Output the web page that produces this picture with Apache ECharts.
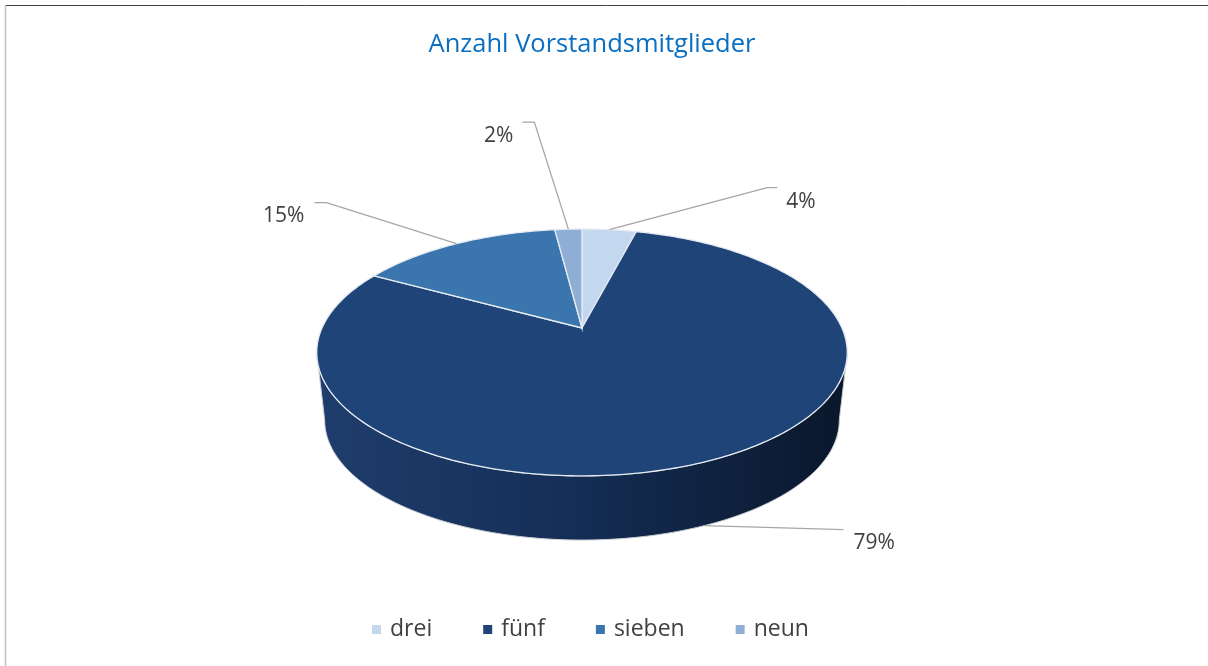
<!DOCTYPE html>
<html>
<head>
<meta charset="utf-8">
<title>Anzahl Vorstandsmitglieder</title>
<script src="https://cdn.jsdelivr.net/npm/echarts@6/dist/echarts.min.js"></script>
<style>
  html, body { margin: 0; padding: 0; background: #fff; }
  #chart { width: 1208px; height: 666px; }
</style>
</head>
<body>
<div id="chart"></div>
<script>
// Daten
const categories = ['drei', 'fünf', 'sieben', 'neun'];
const shares = [4, 79, 15, 2];          // Prozent
const shareLabels = ['4%', '79%', '15%', '2%'];

const topColors = ['#c3d7ee', '#1f4578', '#3a75ad', '#8eaed6'];

// 3D-Torte: Ellipse mit Perspektive (wie Excel)
const PIE = { cx: 582, cy: 328, a: 260, b: 118.6, k: 0.198, depth: 68.6, shrink: 0.97 };

// Führungslinien: Knick relativ zum Ankerpunkt, waagrechtes Stück, Textversatz
const leader = [
  { dx: 158, dy: -42, run: 10, tx: 9, ty: 14, align: 'left' },
  { dx: 139, dy: 4, run: 0, tx: 10, ty: 13, align: 'left' },
  { dx: -130, dy: -41, run: -12, tx: -10, ty: 13, align: 'right' },
  { dx: -34, dy: -107, run: -12, tx: -9, ty: 14, align: 'right' }
];

const total = shares.reduce((s, v) => s + v, 0);

function proj(phi, bottom) {
  const X = Math.sin(phi), T = -Math.cos(phi);
  const s = bottom ? PIE.shrink : 1;
  const d = 1 - PIE.k * T;
  return [
    PIE.cx + PIE.a * s * X / d,
    PIE.cy + (bottom ? PIE.depth : 0) + PIE.b * s * T / d
  ];
}

function arc(p0, p1, bottom) {
  const pts = [];
  const n = Math.max(2, Math.ceil(Math.abs(p1 - p0) / (Math.PI / 180)));
  for (let j = 0; j <= n; j++) pts.push(proj(p0 + (p1 - p0) * j / n, bottom));
  return pts;
}

// sichtbarer Bereich der Außenwand (Vorderseite)
const wallFrom = Math.acos(-PIE.k);
const wallTo = 2 * Math.PI - wallFrom;

function renderSlice(params, api) {
  const i = api.value(0);
  let before = 0;
  for (let j = 0; j < i; j++) before += shares[j];
  const p0 = 2 * Math.PI * before / total;
  const p1 = 2 * Math.PI * (before + shares[i]) / total;
  const mid = (p0 + p1) / 2;
  const children = [];

  const w0 = Math.max(p0, wallFrom), w1 = Math.min(p1, wallTo);
  if (w1 > w0) {
    const pts = arc(w0, w1, false).concat(arc(w1, w0, true));
    children.push({
      type: 'polygon',
      shape: { points: pts },
      style: {
        fill: {
          type: 'linear', x: 318, y: 0, x2: 848, y2: 0, global: true,
          colorStops: [
            { offset: 0, color: '#1f3d6c' },
            { offset: 0.45, color: '#152f58' },
            { offset: 1, color: '#0a172b' }
          ]
        },
        stroke: '#c8cdd4',
        lineWidth: 1
      },
      z2: 1
    });
  }

  children.push({
    type: 'polygon',
    shape: { points: [[PIE.cx, PIE.cy]].concat(arc(p0, p1, false)) },
    style: { fill: topColors[i], stroke: '#e6ebf2', lineWidth: 1.3 },
    z2: 2
  });

  // Anker: vorne an der Unterkante, sonst am oberen Rand
  const front = mid > wallFrom && mid < wallTo;
  const anchor = proj(mid, front);
  const L = leader[i];
  const elbow = [anchor[0] + L.dx, anchor[1] + L.dy];
  const end = [elbow[0] + L.run, elbow[1]];
  children.push({
    type: 'polyline',
    shape: { points: [anchor, elbow, end] },
    style: { stroke: '#a6a6a6', lineWidth: 1.3, fill: null },
    z2: 10
  });
  children.push({
    type: 'text',
    style: {
      text: shareLabels[i],
      x: end[0] + L.tx,
      y: end[1] + L.ty,
      fill: '#404040',
      fontSize: 21,
      fontFamily: 'Open Sans',
      align: L.align,
      verticalAlign: 'middle'
    },
    z2: 10
  });

  return { type: 'group', children: children };
}

const chart = echarts.init(document.getElementById('chart'));
chart.setOption({
  backgroundColor: '#fff',
  animation: false,
  title: {
    text: 'Anzahl Vorstandsmitglieder',
    left: 587,
    textAlign: 'center',
    top: 27,
    textStyle: { color: '#0b6fc1', fontSize: 25.5, fontWeight: 'normal', fontFamily: 'Open Sans' }
  },
  legend: {
    data: categories,
    left: 372,
    top: 618,
    padding: 0,
    icon: 'rect',
    itemWidth: 9,
    itemHeight: 9,
    itemGap: 51,
    selectedMode: false,
    textStyle: { color: '#404040', fontSize: 23, fontFamily: 'Open Sans', padding: [0, 0, 0, 4] }
  },
  graphic: [
    { type: 'line', shape: { x1: 5, y1: 5.5, x2: 1208, y2: 5.5 }, style: { stroke: '#404040', lineWidth: 1 } },
    { type: 'line', shape: { x1: 5.5, y1: 5, x2: 5.5, y2: 666 }, style: { stroke: '#bfbfbf', lineWidth: 1.5 } }
  ],
  series: categories.map((name, i) => ({
    type: 'custom',
    name: name,
    coordinateSystem: 'none',
    silent: true,
    itemStyle: { color: topColors[i] },
    data: [[i, shares[i]]],
    renderItem: renderSlice
  }))
});
</script>
</body>
</html>
